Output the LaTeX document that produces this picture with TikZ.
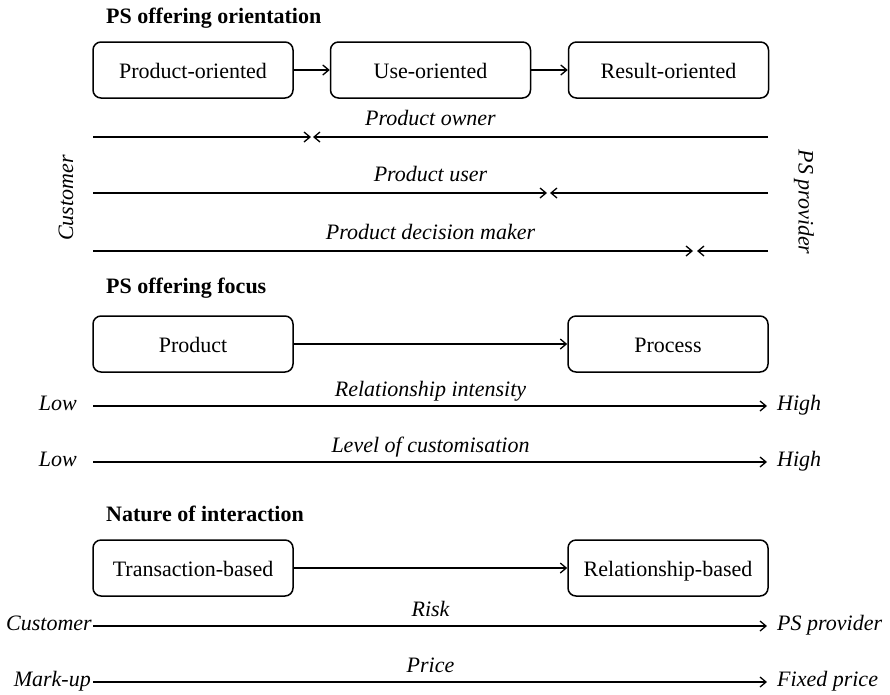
\documentclass[tikz,border=0pt]{standalone}
\usepackage{fontspec}
\setmainfont{Liberation Serif}
\usetikzlibrary{arrows.meta}
\begin{document}
\begin{tikzpicture}[x=1pt,y=-1pt,
  every node/.style={font=\fontsize{22}{26}\selectfont, inner sep=0pt},
  stage/.style={draw, line width=1.5pt, rounded corners=8pt,
                minimum width=200pt, minimum height=56pt,
                text height=16pt, text depth=0pt},
  flow/.style={line width=1.3pt,
               -{Straight Barb[length=6pt,width=10pt,line width=1.3pt]}},
  heading/.style={font=\fontsize{22}{26}\selectfont\bfseries, anchor=base west},
  axislabel/.style={font=\fontsize{22}{26}\selectfont\itshape, anchor=base},
  endleft/.style={font=\fontsize{22}{26}\selectfont\itshape, anchor=base east},
  endright/.style={font=\fontsize{22}{26}\selectfont\itshape, anchor=base west},
  ]
\useasboundingbox (0,0) rectangle (890,694);

% ---------- PS offering orientation ----------
\node[heading] (h1) at (106,23) {PS offering orientation};
\node[stage] (po) at (193,70) {Product-oriented};
\node[stage] (uo) at (430.5,70) {Use-oriented};
\node[stage] (ro) at (668.5,70) {Result-oriented};
\draw[flow] (po) -- (uo);
\draw[flow] (uo) -- (ro);

% roles shifting between customer and provider
\coordinate (ownL) at (93,137);  \coordinate (ownR) at (768,137);
\coordinate (ownA) at (311,137); \coordinate (ownB) at (313,137);
\draw[flow] (ownL) -- (ownA);
\draw[flow] (ownR) -- (ownB);
\node[axislabel] (ownT) at (430.5,125) {Product owner};

\coordinate (useL) at (93,193);  \coordinate (useR) at (768,193);
\coordinate (useA) at (547,193); \coordinate (useB) at (550,193);
\draw[flow] (useL) -- (useA);
\draw[flow] (useR) -- (useB);
\node[axislabel] (useT) at (430.5,181) {Product user};

\coordinate (decL) at (93,251);  \coordinate (decR) at (768,251);
\coordinate (decA) at (693,251); \coordinate (decB) at (697,251);
\draw[flow] (decL) -- (decA);
\draw[flow] (decR) -- (decB);
\node[axislabel] (decT) at (430.5,239) {Product decision maker};

\node[rotate=90, font=\fontsize{22}{26}\selectfont\itshape] (cust) at (66,198) {Customer};
\node[rotate=-90, font=\fontsize{22}{26}\selectfont\itshape] (prov) at (804,202) {PS provider};

% ---------- PS offering focus ----------
\node[heading] (h2) at (106,293) {PS offering focus};
\node[stage] (prod) at (193,344) {Product};
\node[stage] (proc) at (668,344) {Process};
\draw[flow] (prod) -- (proc);

\coordinate (riL) at (93,406); \coordinate (riR) at (767,406);
\draw[flow] (riL) -- (riR);
\node[axislabel] (riT) at (430.5,396) {Relationship intensity};
\node[endleft] (riLow) at (77,410) {Low};
\node[endright] (riHigh) at (777,410) {High};

\coordinate (lcL) at (93,462); \coordinate (lcR) at (767,462);
\draw[flow] (lcL) -- (lcR);
\node[axislabel] (lcT) at (430.5,452) {Level of customisation};
\node[endleft] (lcLow) at (77,466) {Low};
\node[endright] (lcHigh) at (777,466) {High};

% ---------- Nature of interaction ----------
\node[heading] (h3) at (106,521) {Nature of interaction};
\node[stage] (tb) at (193,568) {Transaction-based};
\node[stage] (rb) at (668,568) {Relationship-based};
\draw[flow] (tb) -- (rb);

\coordinate (rkL) at (93,626); \coordinate (rkR) at (767,626);
\draw[flow] (rkL) -- (rkR);
\node[axislabel] (rkT) at (430.5,616) {Risk};
\node[endleft] (rkCust) at (92,630) {Customer};
\node[endright] (rkProv) at (777,630) {PS provider};

\coordinate (prL) at (93,682); \coordinate (prR) at (767,682);
\draw[flow] (prL) -- (prR);
\node[axislabel] (prT) at (430.5,672) {Price};
\node[endleft] (prMark) at (91,686) {Mark-up};
\node[endright] (prFixed) at (777,686) {Fixed price};
\end{tikzpicture}
\end{document}
